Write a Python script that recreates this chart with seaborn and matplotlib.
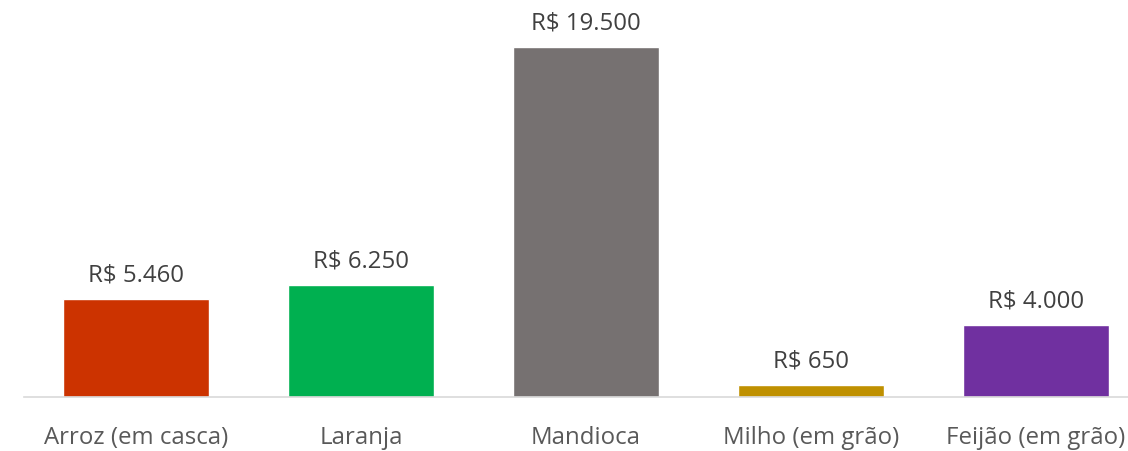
import matplotlib
matplotlib.use("Agg")
import pandas as pd
import seaborn as sns
import matplotlib.pyplot as plt

culturas = ["Arroz (em casca)", "Laranja", "Mandioca", "Milho (em grão)", "Feijão (em grão)"]
valores = [5460, 6250, 19500, 650, 4000]
cores = ["#CC3300", "#00B050", "#767171", "#BF9000", "#7030A0"]

df = pd.DataFrame({"cultura": culturas, "valor": valores})

sns.set_style("white")
plt.rcParams["font.family"] = ["Open Sans", "DejaVu Sans"]

fig = plt.figure(figsize=(11.28, 4.52), dpi=100)
ax = fig.add_axes([24 / 1128, 54 / 452, 1104 / 1128, 398 / 452])

sns.barplot(data=df, x="cultura", y="valor", hue="cultura", palette=cores,
            width=0.65, legend=False, saturation=1, ax=ax)

for i, v in enumerate(valores):
    rotulo = "R$ " + f"{v:,}".replace(",", ".")
    ax.annotate(rotulo, (i, v), xytext=(0, 9), textcoords="offset points",
                ha="center", va="bottom", fontsize=17.3, color="#404040")

ax.set_xlim(-0.5, 4.41)
ax.set_ylim(0, 19500 * 398 / 350)
ax.set_xlabel("")
ax.set_ylabel("")
ax.set_yticks([])
ax.tick_params(axis="x", length=0, pad=20, labelsize=17.3, labelcolor="#595959")
for s in ["top", "right", "left"]:
    ax.spines[s].set_visible(False)
ax.spines["bottom"].set_color("#D9D9D9")
ax.spines["bottom"].set_linewidth(1.2)

fig.savefig("out.png", dpi=100)
